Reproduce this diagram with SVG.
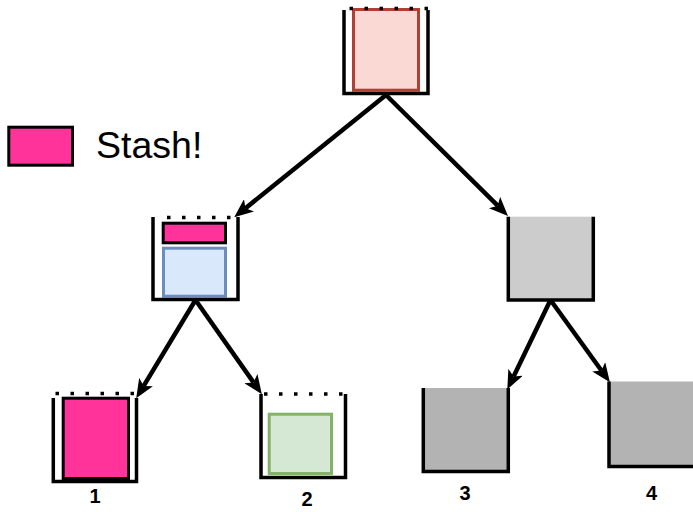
<svg xmlns="http://www.w3.org/2000/svg" width="693" height="512" viewBox="0 0 693 512">
  <style>
    .frame { fill: none; stroke: #000; stroke-width: 3.5; }
    .dots { fill: none; stroke: #000; stroke-width: 3.5; stroke-dasharray: 3.5 11.5; }
    .edge { fill: none; stroke: #000; stroke-width: 4.5; marker-end: url(#arrow); }
    .label { font-family: "Liberation Sans", Arial, sans-serif; font-weight: bold; font-size: 20px; text-anchor: middle; fill: #000; }
    .stash { fill: #ff3399; stroke: #000; stroke-width: 3; }
  </style>
  <defs>
    <marker id="arrow" markerUnits="userSpaceOnUse" viewBox="0 0 19 16" markerWidth="19" markerHeight="16" refX="4.5" refY="8" orient="auto">
      <path d="M0,0 L19,8 L0,16 L4.5,8 Z" fill="#000"/>
    </marker>
  </defs>

  <rect width="693" height="512" fill="#fff"/>

  <!-- legend -->
  <g id="legend">
    <rect class="stash" x="8.8" y="127.2" width="63.7" height="38"/>
    <text x="96" y="158" font-family="'Liberation Sans', Arial, sans-serif" font-size="37.5" fill="#000">Stash!</text>
  </g>

  <!-- root -->
  <g id="root">
    <rect x="353.5" y="9.5" width="65" height="80.7" fill="#fad9d5" stroke="#ae4132" stroke-width="3"/>
    <path class="frame" d="M344,10 V93.5 H428 V10"/>
    <line class="dots" x1="349.5" y1="8.5" x2="428" y2="8.5"/>
  </g>

  <!-- left middle: stash on top of state -->
  <g id="mid-left">
    <rect class="stash" x="163.2" y="223.2" width="62.3" height="19.6"/>
    <rect x="163.5" y="248.2" width="62" height="48" fill="#dae8fc" stroke="#6c8ebf" stroke-width="3"/>
    <path class="frame" d="M153,217 V299.5 H238 V217"/>
    <line class="dots" x1="167" y1="217.5" x2="238" y2="217.5"/>
  </g>

  <!-- right middle -->
  <g id="mid-right">
    <rect x="508.3" y="216.7" width="85" height="83.3" fill="#cccccc"/>
    <path class="frame" d="M508.3,216.7 V300 H593.3 V216.7"/>
  </g>

  <!-- leaf 1 -->
  <g id="leaf-1">
    <rect class="stash" x="63.2" y="398.2" width="65.3" height="80.3"/>
    <path class="frame" d="M53.3,398 V481.5 H136.5 V398"/>
    <line class="dots" x1="55.5" y1="393.5" x2="137" y2="393.5"/>
    <text class="label" x="95" y="503">1</text>
  </g>

  <!-- leaf 2 -->
  <g id="leaf-2">
    <rect x="269.2" y="414.2" width="62.3" height="59.3" fill="#d5e8d4" stroke="#82b366" stroke-width="3"/>
    <path class="frame" d="M261,394 V477.5 H345.5 V394"/>
    <line class="dots" x1="264" y1="394" x2="346" y2="394"/>
    <text class="label" x="307" y="506">2</text>
  </g>

  <!-- leaf 3 -->
  <g id="leaf-3">
    <rect x="423.3" y="388" width="85" height="83.5" fill="#b3b3b3"/>
    <path class="frame" d="M423.3,388 V471.5 H508.3 V388"/>
    <text class="label" x="465" y="500">3</text>
  </g>

  <!-- leaf 4 -->
  <g id="leaf-4">
    <rect x="609" y="381.5" width="85" height="85" fill="#b3b3b3"/>
    <path class="frame" d="M609,381.5 V466.5 H694"/>
    <text class="label" x="651.5" y="500">4</text>
  </g>

  <!-- connectors -->
  <g id="edges">
    <line class="edge" x1="386" y1="95" x2="245.5" y2="208.2"/>
    <line class="edge" x1="386" y1="95" x2="497.7" y2="205.7"/>
    <line class="edge" x1="195.5" y1="300" x2="143.7" y2="385.9"/>
    <line class="edge" x1="195.5" y1="300" x2="253.5" y2="382.4"/>
    <line class="edge" x1="550.5" y1="300" x2="513.6" y2="376.4"/>
    <line class="edge" x1="550.5" y1="300" x2="601.4" y2="370.5"/>
  </g>
</svg>
